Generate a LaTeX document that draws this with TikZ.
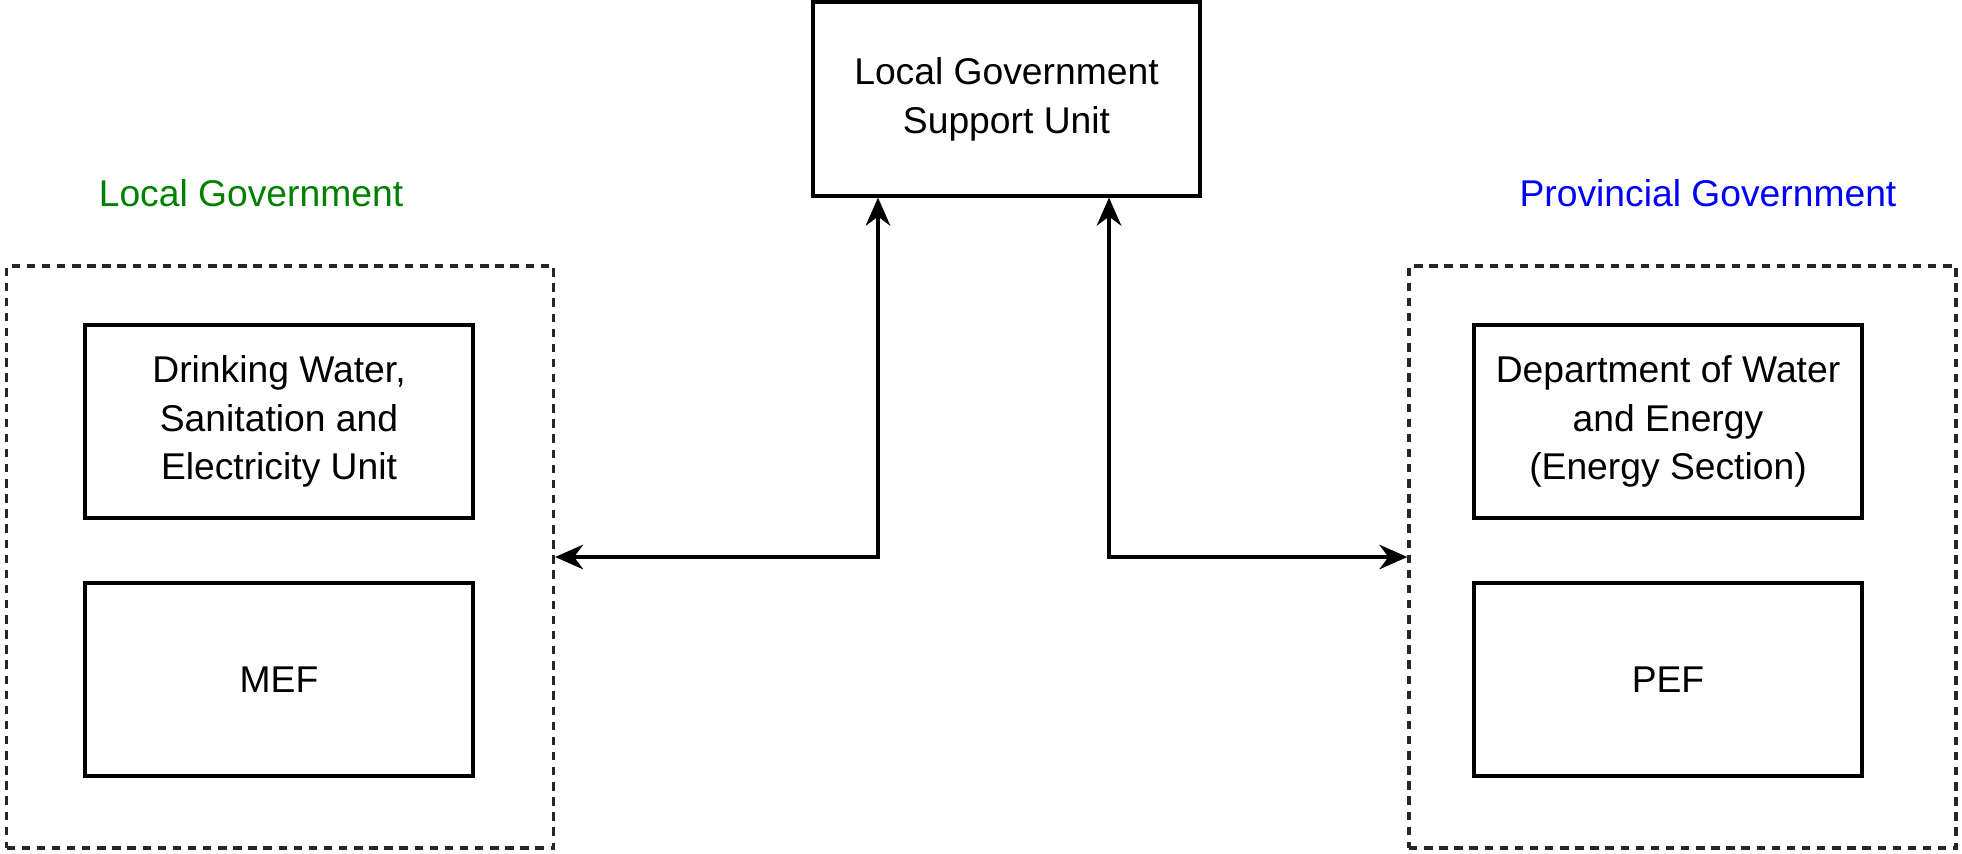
\documentclass[tikz,border=0pt]{standalone}
\usepackage{fontspec}
\setmainfont{Liberation Sans}
\usetikzlibrary{arrows.meta}

\begin{document}
\begin{tikzpicture}

	\tikzstyle{unit_node}=[rectangle, draw=black, line width=0.9pt, minimum width=3.88cm, minimum height=1.93cm, inner sep=0pt, align=center, font=\fontsize{10.6}{13.9}\selectfont]
	\tikzstyle{frame_node}=[rectangle, draw=black!85, line width=0.9pt, dash pattern=on 2.4pt off 1.9pt, minimum width=5.47cm, minimum height=5.82cm, inner sep=0pt]
	\tikzstyle{title_node}=[font=\fontsize{10.6}{13}\selectfont]
	\tikzstyle{link_arrow}=[<->, line width=0.9pt, >={Stealth[length=8pt, width=7pt, inset=2.6pt]}]

	\useasboundingbox (0,0) rectangle (19.62,8.53);

	% Main nodes
	\node[unit_node, minimum width=3.87cm, minimum height=1.94cm] at (10.065, 7.54) (support_unit) {Local Government\\Support Unit};

	\node[frame_node] at (2.80, 2.96) (local_frame) {};
	\node[unit_node] at (2.79, 4.315) (dwse_unit) {Drinking Water,\\Sanitation and\\Electricity Unit};
	\node[unit_node] at (2.79, 1.735) (mef) {MEF};

	\node[frame_node] at (16.825, 2.96) (provincial_frame) {};
	\node[unit_node] at (16.68, 4.315) (dwe) {Department of Water\\and Energy\\(Energy Section)};
	\node[unit_node] at (16.68, 1.735) (pef) {PEF};

	% Text nodes
	\node[title_node, text=green!50!black] at (2.51, 6.60) (local_title) {Local Government};
	\node[title_node, text=blue] at (17.08, 6.60) (provincial_title) {Provincial Government};

	% Connections
	\coordinate (left_turn) at (8.78, 2.96);
	\coordinate (right_turn) at (11.09, 2.96);

	\draw[link_arrow] (local_frame.east) -| (support_unit.south -| left_turn);
	\draw[link_arrow] (provincial_frame.west) -| (support_unit.south -| right_turn);

\end{tikzpicture}
\end{document}
